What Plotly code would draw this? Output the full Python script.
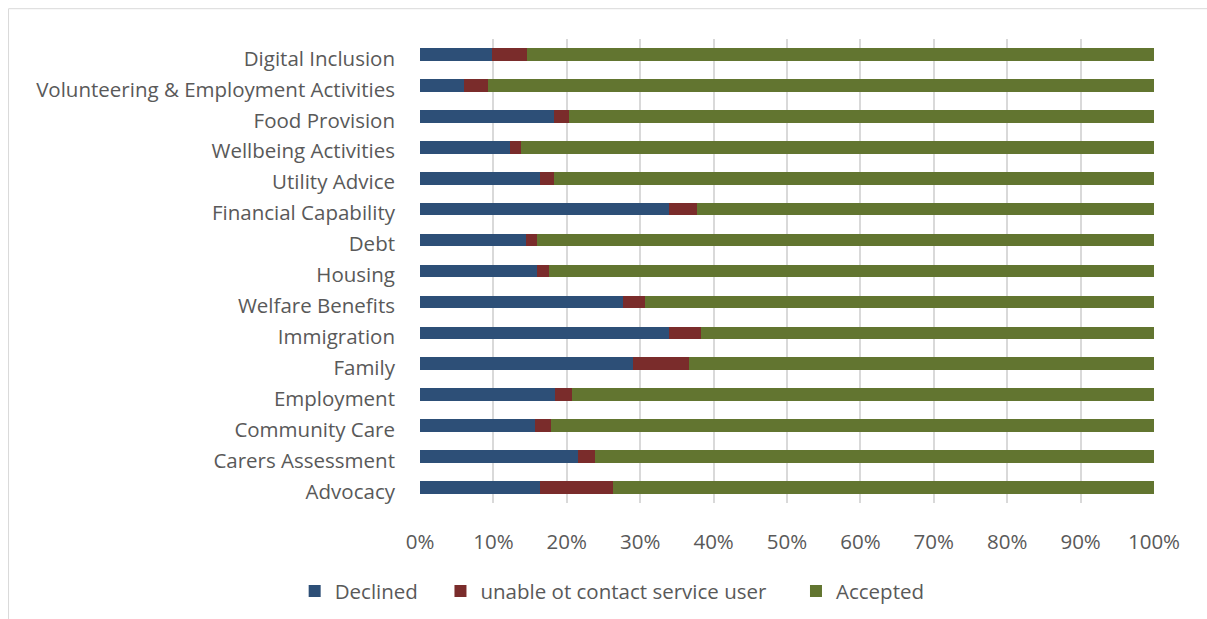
import plotly.graph_objects as go

categories = ["Advocacy", "Carers Assessment", "Community Care", "Employment", "Family",
              "Immigration", "Welfare Benefits", "Housing", "Debt", "Financial Capability",
              "Utility Advice", "Wellbeing Activities", "Food Provision",
              "Volunteering & Employment Activities", "Digital Inclusion"]
declined = [16.3, 21.5, 15.7, 18.4, 29.0, 33.9, 27.7, 15.9, 14.5, 33.9, 16.4, 12.2, 18.3, 6.0, 9.8]
unable = [10.0, 2.4, 2.2, 2.3, 7.7, 4.4, 3.0, 1.7, 1.4, 3.8, 1.8, 1.6, 2.0, 3.2, 4.8]
accepted = [73.7, 76.1, 82.1, 79.3, 63.3, 61.7, 69.3, 82.4, 84.1, 62.3, 81.8, 86.2, 79.7, 90.8, 85.4]
tick_vals = [0, 10, 20, 30, 40, 50, 60, 70, 80, 90, 100]
tick_text = ["0%", "10%", "20%", "30%", "40%", "50%", "60%", "70%", "80%", "90%", "100%"]

W, H = 1207, 619
L, R, T, B = 419.5, 52.5, 38.8, 116.2
pw, ph = W - L - R, H - T - B

def px_x(X):
    return (X - L) / pw

def px_y(Y):
    return (H - B - Y) / ph

FONT = "Open Sans"
FS = 20.5
TXT = "#595959"

fig = go.Figure()
series = [("Declined", declined, "#2D4F77", "legend"),
          ("unable ot contact service user", unable, "#7A2C2B", "legend2"),
          ("Accepted", accepted, "#627530", "legend3")]
for name, vals, col, lg in series:
    fig.add_trace(go.Bar(y=categories, x=vals, name=name, orientation="h",
                         marker=dict(color=col, line=dict(width=0)), legend=lg,
                         showlegend=True))

leg_common = dict(orientation="h", yanchor="middle", xanchor="left",
                  font=dict(family=FONT, size=FS, color=TXT),
                  bgcolor="rgba(0,0,0,0)", borderwidth=0)
fig.update_layout(
    width=W, height=H,
    margin=dict(l=L, r=R, t=T, b=B, autoexpand=False),
    showlegend=True,
    barmode="stack", barnorm="percent", bargap=0.59,
    plot_bgcolor="white", paper_bgcolor="white",
    font=dict(family=FONT, size=FS, color=TXT),
    legend=dict(x=px_x(294), y=px_y(591), **leg_common),
    legend2=dict(x=px_x(440), y=px_y(591), **leg_common),
    legend3=dict(x=px_x(796), y=px_y(591), **leg_common),
    xaxis=dict(range=[0, 100], tickvals=tick_vals, ticktext=tick_text,
               showgrid=True, gridcolor="#D9D9D9", gridwidth=1.5, automargin=False,
               zeroline=False, showline=False, ticks="", ticklabelstandoff=24,
               tickfont=dict(family=FONT, size=FS, color=TXT)),
    yaxis=dict(type="category", showgrid=False, zeroline=False, showline=False,
               ticks="", ticklabelstandoff=24, ticklabelshift=4, automargin=False,
               tickfont=dict(family=FONT, size=FS, color=TXT)),
    shapes=[dict(type="rect", xref="paper", yref="paper",
                 x0=px_x(7.5), x1=px_x(1215), y0=px_y(630), y1=px_y(8.5),
                 line=dict(color="#D9D9D9", width=1), fillcolor="rgba(0,0,0,0)",
                 layer="below")],
)

fig.write_html("out.html")
